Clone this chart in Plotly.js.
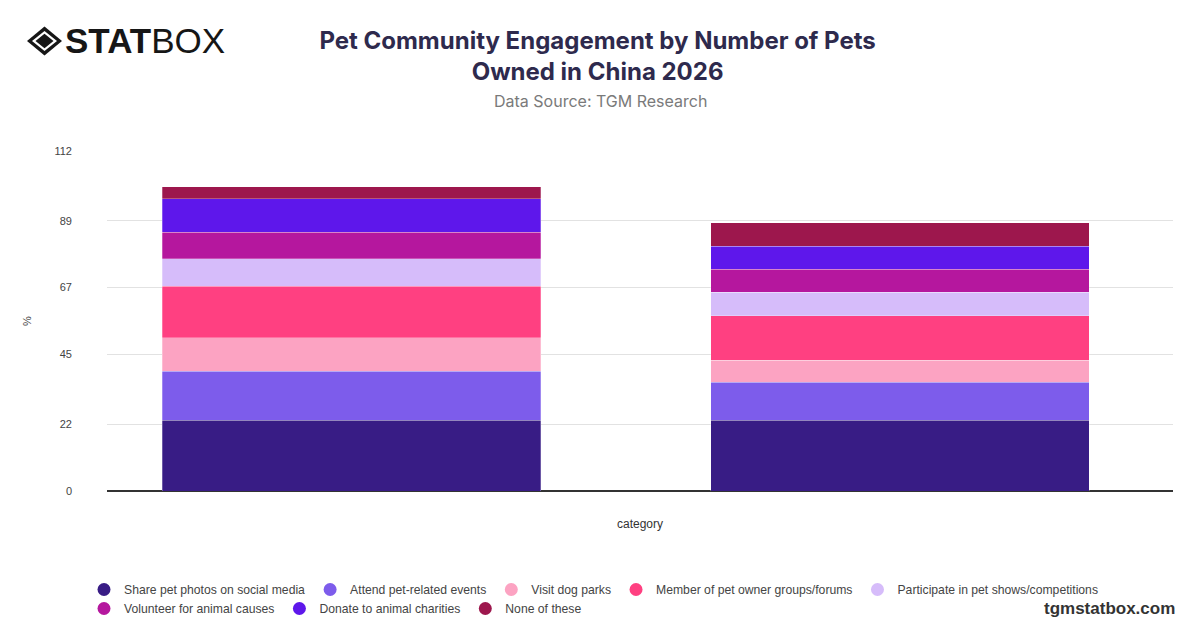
<!DOCTYPE html>
<html>
<head>
<meta charset="utf-8">
<script src="https://cdn.plot.ly/plotly-3.0.1.min.js"></script>
<style>html,body{margin:0;padding:0;background:#fff;}#chart{width:1200px;height:628px;}</style>
</head>
<body>
<div id="chart"></div>
<script>
// ---- data ----
const categories = ["One pet", "Multiple pets"];
const seriesNames = [
  "Share pet photos on social media",
  "Attend pet-related events",
  "Visit dog parks",
  "Member of pet owner groups/forums",
  "Participate in pet shows/competitions",
  "Volunteer for animal causes",
  "Donate to animal charities",
  "None of these"
];
const sharePhotos   = [23.3, 23.3];
const attendEvents  = [16.1, 12.5];
const visitParks    = [11.1, 7.3];
const memberGroups  = [17.0, 14.7];
const participate   = [9.0, 7.6];
const volunteer     = [8.7, 7.7];
const donate        = [11.1, 7.6];
const noneOfThese   = [4.0, 7.6];
const yTickVals = [0, 22, 45, 67, 89, 112];

const seriesValues = [sharePhotos, attendEvents, visitParks, memberGroups, participate, volunteer, donate, noneOfThese];
const colors = ["#381c85", "#7d5ceb", "#fca3c2", "#ff4081", "#d6bcfa", "#b5179e", "#5e17eb", "#9d174d"];

// plot-area pixel helpers for logo shapes
const L = 107, R = 27, T = 151, B = 137, W = 1200, H = 628;
const pw = W - L - R, ph = H - T - B;
const px = x => (x - L) / pw;
const py = y => (H - B - y) / ph;

const traces = [];
seriesValues.forEach((vals, i) => {
  traces.push({
    type: "bar",
    x: categories,
    y: vals,
    name: seriesNames[i],
    legendgroup: "g" + i,
    showlegend: false,
    width: 0.69,
    marker: { color: colors[i], line: { width: 0.6, color: "rgba(255,255,255,0.45)" } },
    hovertemplate: "%{x}: %{y}%<extra>" + seriesNames[i] + "</extra>"
  });
});
seriesValues.forEach((vals, i) => {
  traces.push({
    type: "scatter",
    mode: "markers",
    x: [null],
    y: [null],
    name: seriesNames[i],
    legendgroup: "g" + i,
    showlegend: true,
    marker: { color: colors[i], size: 13, symbol: "circle" },
    hoverinfo: "skip"
  });
});

function diamond(cx, cy, rx, ry) {
  return `M ${px(cx - rx)} ${py(cy)} L ${px(cx)} ${py(cy - ry)} L ${px(cx + rx)} ${py(cy)} L ${px(cx)} ${py(cy + ry)} Z`;
}

const layout = {
  width: W, height: H,
  paper_bgcolor: "#ffffff",
  plot_bgcolor: "#ffffff",
  margin: { l: L, r: R, t: T, b: B, autoexpand: false },
  barmode: "stack",
  font: { family: "Liberation Sans, Arial, sans-serif", color: "#444" },
  title: {
    text: "<b>Pet Community Engagement by Number of Pets<br>Owned in China 2026</b>",
    x: 0.498, xref: "container", xanchor: "center",
    y: 1 - 49 / 628, yref: "container", yanchor: "middle",
    font: { family: "Inter, Liberation Sans, sans-serif", size: 24, color: "#2e2a4d" }
  },
  xaxis: {
    type: "category",
    range: [-0.446, 1.498],
    showticklabels: false,
    showgrid: false,
    ticks: "",
    title: { text: "category", standoff: 28, font: { size: 12, color: "#333" } }
  },
  yaxis: {
    range: [0, 112],
    tickvals: yTickVals,
    ticktext: yTickVals.map(String),
    tickfont: { size: 11, color: "#444" },
    ticklabelstandoff: 34,
    gridcolor: "#e2e2e2",
    gridwidth: 1,
    zeroline: true,
    zerolinecolor: "#333",
    zerolinewidth: 1.5,
    ticks: "",
    ticklen: 0,
    title: { text: "%", standoff: 20, font: { size: 11, color: "#444" } }
  },
  legend: {
    orientation: "h",
    x: px(84), xanchor: "left",
    y: py(575), yanchor: "top",
    font: { size: 12.2, color: "#444" },
    itemwidth: 30,
    tracegroupgap: 0,
    bgcolor: "rgba(0,0,0,0)"
  },
  annotations: [
    {
      text: "Data Source: TGM Research",
      xref: "paper", yref: "paper",
      x: px(600), y: py(101), xanchor: "center", yanchor: "middle",
      showarrow: false,
      font: { family: "Inter, Liberation Sans, sans-serif", size: 16, color: "#7a7a7a" }
    },
    {
      text: "<b>STAT</b>BOX",
      xref: "paper", yref: "paper",
      x: px(63), y: py(40), xanchor: "left", yanchor: "middle",
      showarrow: false,
      font: { family: "Liberation Sans, Arial, sans-serif", size: 35, color: "#161616" }
    },
    {
      text: "<b>tgmstatbox.com</b>",
      xref: "paper", yref: "paper",
      x: px(1177), y: py(608), xanchor: "right", yanchor: "middle",
      showarrow: false,
      font: { family: "Liberation Sans, Arial, sans-serif", size: 17, color: "#333" }
    }
  ],
  shapes: [
    { type: "path", xref: "paper", yref: "paper", path: diamond(44.5, 41, 17.5, 14.5), fillcolor: "#161616", line: { width: 0 } },
    { type: "path", xref: "paper", yref: "paper", path: diamond(44.5, 41, 12.5, 10), fillcolor: "#ffffff", line: { width: 0 } },
    { type: "path", xref: "paper", yref: "paper", path: diamond(44.5, 41, 9, 7.2), fillcolor: "#161616", line: { width: 0 } }
  ]
};

Plotly.newPlot("chart", traces, layout, { displayModeBar: false, staticPlot: true });
</script>
</body>
</html>
